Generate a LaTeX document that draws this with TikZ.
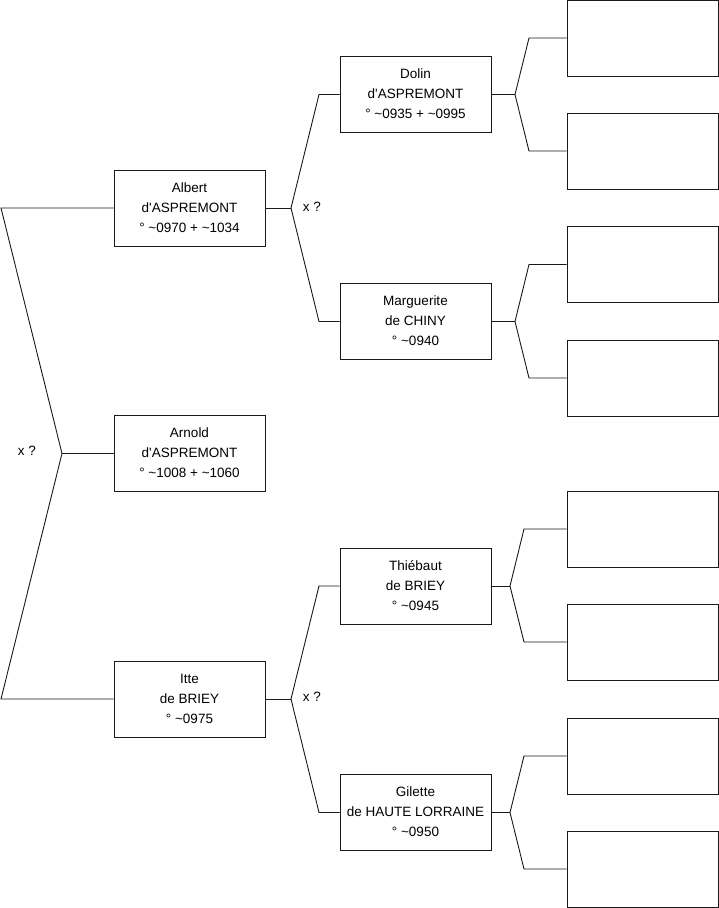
\documentclass[tikz,border=0pt]{standalone}
\usepackage{fontspec}
\setmainfont[Ligatures=NoCommon]{Liberation Sans}
\newcommand{\apo}{\textquotesingle}
\begin{document}
\begin{tikzpicture}[x=1pt,y=-1pt,
  person/.style={draw=black!90,line width=0.9pt,rectangle,minimum width=151pt,minimum height=76pt,inner sep=0pt,align=center,font=\fontsize{13.5}{20}\selectfont},
  link/.style={draw=black!90,line width=0.9pt},
  lbl/.style={font=\fontsize{13.5}{16}\selectfont,inner sep=0pt}]
\useasboundingbox (0,0) rectangle (719,908);
% generation 1
\node[person] (arnold) at (189.5,453.5) {\raisebox{1.5pt}{\begin{tabular}{@{}c@{}}Arnold\\d\apo ASPREMONT\\° \textasciitilde1008 + \textasciitilde1060\end{tabular}}};
% generation 2
\node[person] (albert) at (189.5,208) {\raisebox{1.5pt}{\begin{tabular}{@{}c@{}}Albert\\d\apo ASPREMONT\\° \textasciitilde0970 + \textasciitilde1034\end{tabular}}};
\node[person] (itte) at (189.5,699) {\raisebox{1.5pt}{\begin{tabular}{@{}c@{}}Itte\\de BRIEY\\° \textasciitilde0975\end{tabular}}};
% generation 3
\node[person] (dolin) at (415.5,94.5) {\raisebox{1.5pt}{\begin{tabular}{@{}c@{}}Dolin\\d\apo ASPREMONT\\° \textasciitilde0935 + \textasciitilde0995\end{tabular}}};
\node[person] (marg) at (415.5,321.5) {\raisebox{1.5pt}{\begin{tabular}{@{}c@{}}Marguerite\\de CHINY\\° \textasciitilde0940\end{tabular}}};
\node[person] (thie) at (415.5,586) {\raisebox{1.5pt}{\begin{tabular}{@{}c@{}}Thiébaut\\de BRIEY\\° \textasciitilde0945\end{tabular}}};
\node[person] (gil) at (415.5,812.5) {\raisebox{1.5pt}{\begin{tabular}{@{}c@{}}Gilette\\de HAUTE LORRAINE\\° \textasciitilde0950\end{tabular}}};
% generation 4 (empty)
\node[person] (e1) at (642.5,38) {};
\node[person] (e2) at (642.5,151) {};
\node[person] (e3) at (642.5,264.5) {};
\node[person] (e4) at (642.5,378) {};
\node[person] (e5) at (642.5,529) {};
\node[person] (e6) at (642.5,642) {};
\node[person] (e7) at (642.5,756) {};
\node[person] (e8) at (642.5,869) {};
% left fork
\coordinate (ltop) at (1,208);
\coordinate (lmid) at (62,453.5);
\coordinate (lbot) at (1,699);
\draw[link] (albert.west) -- (ltop) -- (lmid) -- (lbot) -- (itte.west);
\draw[link] (lmid) -- (arnold.west);
\node[lbl] (x1) at (27,451) {x ?};
% Albert fork
\coordinate (af) at (291,208);
\coordinate (au) at (319,94.5);
\coordinate (ad) at (319,321.5);
\draw[link] (albert.east) -- (af);
\draw[link] (af) -- (au) -- (dolin.west);
\draw[link] (af) -- (ad) -- (marg.west);
\node[lbl] (x2) at (312,207) {x ?};
% Itte fork
\coordinate (if) at (291,699);
\coordinate (iu) at (319,586);
\coordinate (id) at (319,812.5);
\draw[link] (itte.east) -- (if);
\draw[link] (if) -- (iu) -- (thie.west);
\draw[link] (if) -- (id) -- (gil.west);
\node[lbl] (x3) at (312,697) {x ?};
% Dolin fork
\coordinate (df) at (515,94.5);
\coordinate (du) at (529,38);
\coordinate (dd) at (529,151);
\draw[link] (dolin.east) -- (df);
\draw[link] (df) -- (du) -- (e1.west);
\draw[link] (df) -- (dd) -- (e2.west);
% Marguerite fork
\coordinate (mf) at (515,321.5);
\coordinate (mu) at (529,264.5);
\coordinate (md) at (529,378);
\draw[link] (marg.east) -- (mf);
\draw[link] (mf) -- (mu) -- (e3.west);
\draw[link] (mf) -- (md) -- (e4.west);
% Thiebaut fork
\coordinate (tf) at (510,586);
\coordinate (tu) at (524,529);
\coordinate (td) at (524,642);
\draw[link] (thie.east) -- (tf);
\draw[link] (tf) -- (tu) -- (e5.west);
\draw[link] (tf) -- (td) -- (e6.west);
% Gilette fork
\coordinate (gf) at (510,812.5);
\coordinate (gu) at (524,756);
\coordinate (gd) at (524,869);
\draw[link] (gil.east) -- (gf);
\draw[link] (gf) -- (gu) -- (e7.west);
\draw[link] (gf) -- (gd) -- (e8.west);
\end{tikzpicture}
\end{document}
